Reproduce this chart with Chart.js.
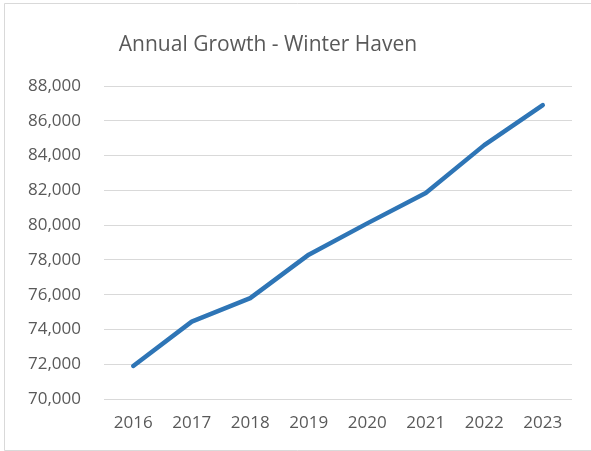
<!DOCTYPE html>
<html>
<head>
<meta charset="utf-8">
<script src="https://cdn.jsdelivr.net/npm/chart.js@4/dist/chart.umd.min.js"></script>
<style>
  html, body { margin: 0; padding: 0; background: #ffffff; }
  #wrap { position: relative; width: 591px; height: 451px; }
</style>
</head>
<body>
<div id="wrap"><canvas id="chart" width="591" height="451"></canvas></div>
<script>
// Population of Winter Haven by year
const years = ['2016', '2017', '2018', '2019', '2020', '2021', '2022', '2023'];
const population = [71900, 74450, 75800, 78300, 80100, 81850, 84600, 86900];
const yMin = 70000;
const yMax = 88000;
const yStep = 2000;
const chartTitle = 'Annual Growth - Winter Haven';

const textColor = '#595959';
const gridColor = '#d9d9d9';
const fontFamily = '"Open Sans", "DejaVu Sans", sans-serif';

// Frame around the chart and the title text
const framePlugin = {
  id: 'frame',
  beforeDraw(chart) {
    const ctx = chart.ctx;
    ctx.save();
    ctx.fillStyle = '#ffffff';
    ctx.fillRect(0, 0, chart.width, chart.height);
    ctx.strokeStyle = '#d9d9d9';
    ctx.lineWidth = 1;
    ctx.beginPath();
    ctx.moveTo(chart.width, 3.5);
    ctx.lineTo(4.5, 3.5);
    ctx.lineTo(4.5, 450.5);
    ctx.lineTo(chart.width, 450.5);
    ctx.stroke();
    ctx.restore();
  },
  afterDraw(chart) {
    const ctx = chart.ctx;
    ctx.save();
    ctx.fillStyle = textColor;
    ctx.font = '21px ' + fontFamily;
    ctx.textAlign = 'center';
    ctx.textBaseline = 'alphabetic';
    ctx.fillText(chartTitle, 268, 51);
    ctx.restore();
  }
};

new Chart(document.getElementById('chart'), {
  type: 'line',
  data: {
    labels: years,
    datasets: [{
      label: 'Population',
      data: population,
      borderColor: '#2e75b6',
      backgroundColor: '#2e75b6',
      borderWidth: 4.5,
      pointRadius: 0,
      pointHoverRadius: 0,
      tension: 0,
      borderCapStyle: 'round',
      borderJoinStyle: 'round',
      fill: false
    }]
  },
  options: {
    responsive: false,
    animation: false,
    events: [],
    layout: { padding: { left: 0, right: 19, top: 86, bottom: 0 } },
    plugins: {
      legend: { display: false },
      title: { display: false },
      tooltip: { enabled: false }
    },
    scales: {
      x: {
        offset: true,
        grid: { display: false, drawTicks: false },
        border: { display: false },
        ticks: {
          color: textColor,
          font: { family: fontFamily, size: 17 },
          padding: 14,
          maxRotation: 0,
          autoSkip: false
        },
        afterFit(scale) { scale.height = 52; }
      },
      y: {
        min: yMin,
        max: yMax,
        grid: { color: gridColor, lineWidth: 1, drawTicks: false },
        border: { display: false },
        ticks: {
          stepSize: yStep,
          color: textColor,
          font: { family: fontFamily, size: 17 },
          padding: 23,
          callback: (v) => v.toLocaleString('en-US')
        },
        afterFit(scale) { scale.width = 104; }
      }
    }
  },
  plugins: [framePlugin]
});
</script>
</body>
</html>
